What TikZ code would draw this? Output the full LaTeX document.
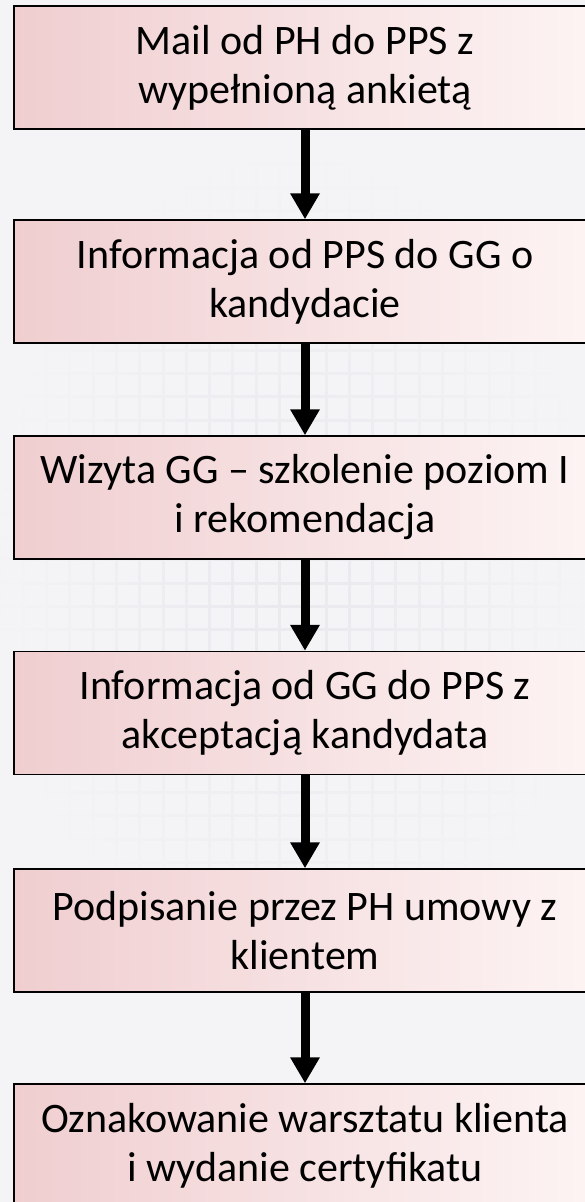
\documentclass[tikz,border=0pt]{standalone}
\usepackage{fontspec}
\setmainfont{Carlito}
\usetikzlibrary{arrows.meta,fadings}
\definecolor{bgc}{RGB}{244,244,246}
\definecolor{gridc}{RGB}{233,233,238}
\definecolor{pinkL}{RGB}{240,206,208}
\definecolor{pinkM}{RGB}{241,194,198}
\definecolor{pinkR}{RGB}{253,244,244}
\tikzfading[name=gridfade, inner color=transparent!0, outer color=transparent!100]
\tikzset{
  stepbox/.style={draw=black, line width=1.5pt, left color=pinkL, middle color=pinkM, right color=pinkR,
    minimum width=582pt, minimum height=123pt, align=center, inner sep=0pt,
    font=\fontsize{42}{49}\selectfont, text=black},
  flowarrow/.style={line width=9pt, -{Triangle[width=28pt,length=26pt]}, black}
}
\begin{document}
\begin{tikzpicture}[x=1pt,y=1pt]
\useasboundingbox (0,0) rectangle (585,-1202);
\fill[bgc] (0,0) rectangle (585,-1202);
\draw[gridc, line width=3pt, step=23.3pt, path fading=gridfade] (0,-160) grid (585,-980);
\node[stepbox] (b1) at (305,-67.5) {Mail od PH do PPS z\\wypełnioną ankietą};
\node[stepbox] (b2) at (305,-281.5) {Informacja od PPS do GG o\\kandydacie};
\node[stepbox] (b3) at (305,-497.5) {Wizyta GG – szkolenie poziom I\\i rekomendacja};
\node[stepbox] (b4) at (305,-713) {Informacja od GG do PPS z\\akceptacją kandydata};
\node[stepbox] (b5) at (305,-930.5) {Podpisanie przez PH umowy z\\klientem};
\node[stepbox] (b6) at (305,-1145.5) {Oznakowanie warsztatu klienta\\i wydanie certyfikatu};
\draw[flowarrow] (b1.south) -- (b2.north);
\draw[flowarrow] (b2.south) -- (b3.north);
\draw[flowarrow] (b3.south) -- (b4.north);
\draw[flowarrow] (b4.south) -- (b5.north);
\draw[flowarrow] (b5.south) -- (b6.north);
\end{tikzpicture}
\end{document}
